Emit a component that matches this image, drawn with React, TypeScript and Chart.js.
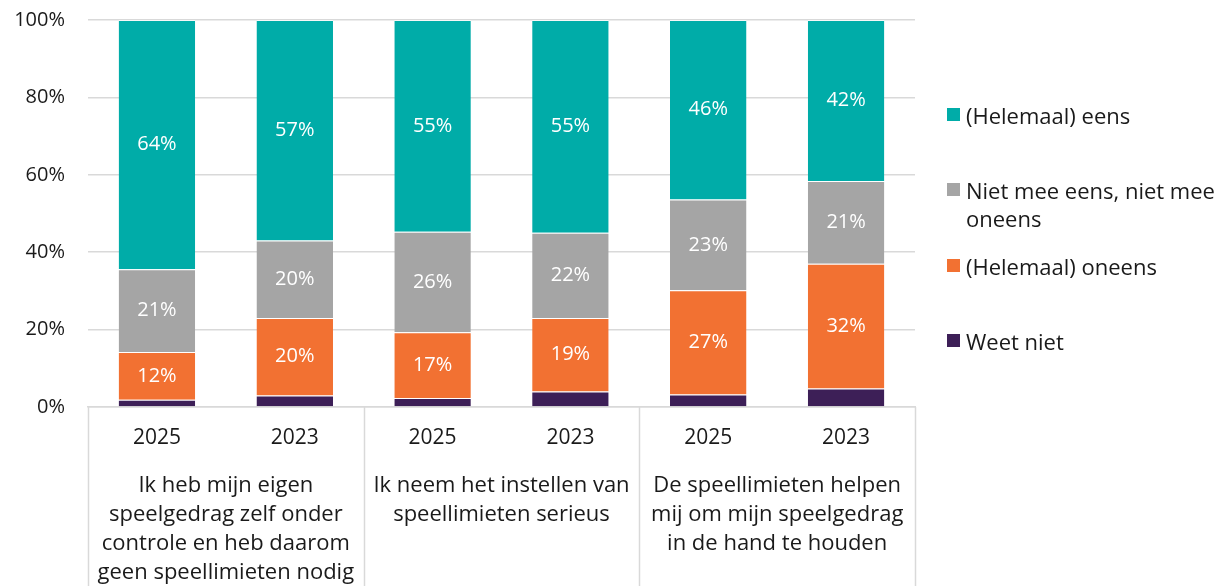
import React, { useEffect, useRef } from "react";
import { Chart, registerables } from "chart.js";

Chart.register(...registerables);

const years = ["2025", "2023", "2025", "2023", "2025", "2023"];
const groups = [
  ["Ik heb mijn eigen", "speelgedrag zelf onder", "controle en heb daarom", "geen speellimieten nodig"],
  ["Ik neem het instellen van", "speellimieten serieus"],
  ["De speellimieten helpen", "mij om mijn speelgedrag", "in de hand te houden"],
];
const weetNiet = [1.9, 3.0, 2.3, 4.0, 3.2, 4.8];
const oneens = [12.3, 20.0, 17.0, 19.0, 27.0, 32.2];
const neutraal = [21.4, 20.0, 26.0, 22.0, 23.4, 21.4];
const eens = [64.4, 57.0, 54.7, 55.0, 46.4, 41.6];
const yTicks = [0, 20, 40, 60, 80, 100];

const FONT = "'Open Sans', 'Noto Sans', sans-serif";
const COLORS = {
  eens: "#00ACA8",
  neutraal: "#A5A5A5",
  oneens: "#F27132",
  weetNiet: "#3D1F57",
};
const GRID = "#D9D9D9";
const TEXT = "#1a1a1a";

const legendItems = [
  { label: ["(Helemaal) eens"], color: COLORS.eens, y: 115 },
  { label: ["Niet mee eens, niet mee", "oneens"], color: COLORS.neutraal, y: 190 },
  { label: ["(Helemaal) oneens"], color: COLORS.oneens, y: 266 },
  { label: ["Weet niet"], color: COLORS.weetNiet, y: 341 },
];

const labelPlugin = {
  id: "segLabels",
  afterDatasetsDraw(chart: any) {
    const ctx = chart.ctx;
    ctx.save();
    ctx.fillStyle = "#ffffff";
    ctx.font = `20px ${FONT}`;
    ctx.textAlign = "center";
    ctx.textBaseline = "middle";
    chart.data.datasets.forEach((ds: any, di: number) => {
      if (ds.noLabel) return;
      const meta = chart.getDatasetMeta(di);
      meta.data.forEach((bar: any, i: number) => {
        const v = ds.data[i];
        const cy = (bar.y + bar.base) / 2;
        ctx.fillText(`${Math.round(v)}%`, bar.x, cy);
      });
    });
    ctx.restore();
  },
};

const groupPlugin = {
  id: "groupAxis",
  afterDraw(chart: any) {
    const ctx = chart.ctx;
    const x = chart.scales.x;
    const area = chart.chartArea;
    const H = chart.height;
    const step = (area.right - area.left) / years.length;
    ctx.save();
    ctx.strokeStyle = GRID;
    ctx.lineWidth = 1.5;
    for (let g = 0; g <= groups.length; g++) {
      const px = Math.round(x.getPixelForValue(g * 2) - step / 2) + 0.5;
      ctx.beginPath();
      ctx.moveTo(px, area.bottom);
      ctx.lineTo(px, H);
      ctx.stroke();
    }
    ctx.fillStyle = TEXT;
    ctx.font = `22px ${FONT}`;
    ctx.textAlign = "center";
    ctx.textBaseline = "middle";
    groups.forEach((lines, g) => {
      const cx = (x.getPixelForValue(g * 2) + x.getPixelForValue(g * 2 + 1)) / 2;
      lines.forEach((ln, li) => {
        ctx.fillText(ln, cx, 486 + li * 29);
      });
    });
    ctx.restore();
  },
};

export default function App() {
  const ref = useRef<HTMLCanvasElement>(null);
  useEffect(() => {
    if (!ref.current) return;
    const chart = new Chart(ref.current, {
      type: "bar",
      data: {
        labels: years,
        datasets: [
          { label: "Weet niet", data: weetNiet, backgroundColor: COLORS.weetNiet, noLabel: true } as any,
          { label: "(Helemaal) oneens", data: oneens, backgroundColor: COLORS.oneens },
          { label: "Niet mee eens, niet mee oneens", data: neutraal, backgroundColor: COLORS.neutraal },
          { label: "(Helemaal) eens", data: eens, backgroundColor: COLORS.eens },
        ].map((d: any) => ({
          ...d,
          categoryPercentage: 1,
          barPercentage: 0.555,
          borderColor: "rgba(255,255,255,0.6)",
          borderWidth: { top: 1 },
          borderSkipped: false,
        })),
      },
      options: {
        responsive: false,
        animation: false,
        layout: { padding: { left: 0, right: 315, top: 20, bottom: 0 } },
        plugins: { legend: { display: false }, tooltip: { enabled: false } },
        scales: {
          x: {
            stacked: true,
            grid: { display: false, drawTicks: false },
            border: { display: true, color: GRID, width: 1.5 },
            ticks: {
              color: TEXT,
              font: { family: FONT, size: 21 },
              padding: 18,
              autoSkip: false,
              maxRotation: 0,
            },
            afterFit(scale: any) {
              scale.height = 179;
            },
          },
          y: {
            stacked: true,
            min: 0,
            max: 100,
            afterBuildTicks(scale: any) {
              scale.ticks = yTicks.map((v) => ({ value: v }));
            },
            grid: { color: GRID, lineWidth: 1.5, drawTicks: false },
            border: { display: false },
            ticks: {
              color: TEXT,
              font: { family: FONT, size: 20 },
              padding: 23,
              callback: (v: any) => `${v}%`,
            },
            afterFit(scale: any) {
              scale.width = 88;
              scale.paddingTop = 12;
              scale.paddingBottom = 12;
            },
          },
        },
      },
      plugins: [labelPlugin, groupPlugin],
    });
    return () => chart.destroy();
  }, []);

  return (
    <div style={{ position: "absolute", left: 0, top: 0, width: 1230, height: 586, background: "#fff", fontFamily: FONT }}>
      <canvas ref={ref} width={1230} height={586} style={{ display: "block" }} />
      {legendItems.map((it, i) => (
        <div key={i}>
          <div
            style={{
              position: "absolute",
              left: 947,
              top: it.y - 7,
              width: 13,
              height: 13,
              background: it.color,
            }}
          />
          {it.label.map((ln, j) => (
            <div
              key={j}
              style={{
                position: "absolute",
                left: 966,
                top: it.y - 14 + j * 28,
                height: 28,
                lineHeight: "28px",
                fontSize: 22,
                color: TEXT,
                whiteSpace: "nowrap",
              }}
            >
              {ln}
            </div>
          ))}
        </div>
      ))}
    </div>
  );
}
